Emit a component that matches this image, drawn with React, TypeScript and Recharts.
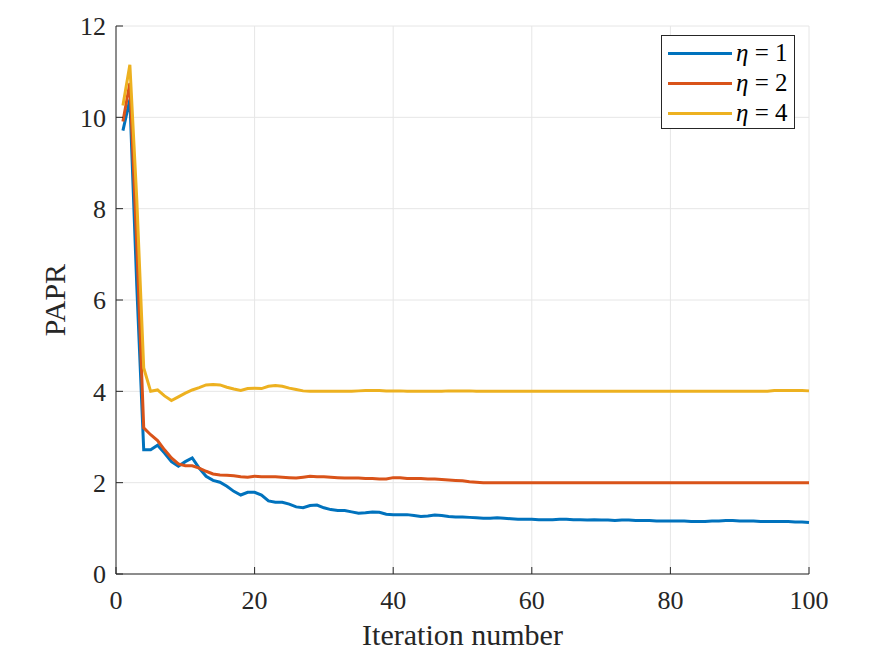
import React from 'react';
import { LineChart, Line, XAxis, YAxis, CartesianGrid } from 'recharts';

// PAPR per iteration (iterations 1..100)
const paprEta1 = [
  9.71, 10.39, 6.3, 2.72, 2.72, 2.82, 2.65, 2.46, 2.36, 2.46,
  2.54, 2.32, 2.14, 2.05, 2.01, 1.92, 1.81, 1.73, 1.79, 1.79,
  1.73, 1.6, 1.57, 1.57, 1.53, 1.47, 1.45, 1.5, 1.51, 1.45,
  1.41, 1.39, 1.39, 1.36, 1.33, 1.34, 1.36, 1.35, 1.31, 1.3,
  1.3, 1.3, 1.28, 1.26, 1.27, 1.29, 1.28, 1.26, 1.25, 1.25,
  1.24, 1.23, 1.22, 1.22, 1.23, 1.22, 1.21, 1.2, 1.2, 1.2,
  1.19, 1.19, 1.19, 1.2, 1.2, 1.19, 1.19, 1.18, 1.19, 1.18,
  1.18, 1.17, 1.18, 1.18, 1.17, 1.17, 1.17, 1.16, 1.16, 1.16,
  1.16, 1.16, 1.15, 1.15, 1.15, 1.16, 1.16, 1.17, 1.17, 1.16,
  1.16, 1.16, 1.15, 1.15, 1.15, 1.15, 1.15, 1.14, 1.14, 1.13,
];

const paprEta2 = [
  9.91, 10.75, 7.2, 3.2, 3.05, 2.92, 2.72, 2.54, 2.41, 2.37,
  2.37, 2.32, 2.25, 2.19, 2.17, 2.16, 2.15, 2.13, 2.12, 2.14,
  2.13, 2.13, 2.13, 2.12, 2.11, 2.1, 2.12, 2.14, 2.13, 2.13,
  2.12, 2.11, 2.1, 2.1, 2.1, 2.09, 2.09, 2.08, 2.08, 2.11,
  2.11, 2.09, 2.09, 2.09, 2.08, 2.08, 2.07, 2.06, 2.05, 2.04,
  2.02, 2.01, 2.0, 2.0, 2.0, 2.0, 2.0, 2.0, 2.0, 2.0,
  2.0, 2.0, 2.0, 2.0, 2.0, 2.0, 2.0, 2.0, 2.0, 2.0,
  2.0, 2.0, 2.0, 2.0, 2.0, 2.0, 2.0, 2.0, 2.0, 2.0,
  2.0, 2.0, 2.0, 2.0, 2.0, 2.0, 2.0, 2.0, 2.0, 2.0,
  2.0, 2.0, 2.0, 2.0, 2.0, 2.0, 2.0, 2.0, 2.0, 2.0,
];

const paprEta4 = [
  10.26, 11.15, 8.2, 4.51, 4.0, 4.03, 3.9, 3.8, 3.88, 3.96,
  4.03, 4.08, 4.14, 4.15, 4.14, 4.09, 4.05, 4.02, 4.06, 4.07,
  4.06, 4.11, 4.13, 4.11, 4.07, 4.04, 4.01, 4.0, 4.0, 4.0,
  4.0, 4.0, 4.0, 4.0, 4.01, 4.02, 4.02, 4.02, 4.01, 4.01,
  4.01, 4.0, 4.0, 4.0, 4.0, 4.0, 4.0, 4.01, 4.01, 4.01,
  4.01, 4.0, 4.0, 4.0, 4.0, 4.0, 4.0, 4.0, 4.0, 4.0,
  4.0, 4.0, 4.0, 4.0, 4.0, 4.0, 4.0, 4.0, 4.0, 4.0,
  4.0, 4.0, 4.0, 4.0, 4.0, 4.0, 4.0, 4.0, 4.0, 4.0,
  4.0, 4.0, 4.0, 4.0, 4.0, 4.0, 4.0, 4.0, 4.0, 4.0,
  4.0, 4.0, 4.0, 4.0, 4.02, 4.02, 4.02, 4.02, 4.02, 4.01,
];

const xTicks = [0, 20, 40, 60, 80, 100];
const yTicks = [0, 2, 4, 6, 8, 10, 12];

const series = [
  { key: 'eta1', label: '1', color: '#0072BD', values: paprEta1 },
  { key: 'eta2', label: '2', color: '#D95319', values: paprEta2 },
  { key: 'eta4', label: '4', color: '#EDB120', values: paprEta4 },
];

const data = paprEta1.map((_, i) => ({
  iter: i + 1,
  eta1: paprEta1[i],
  eta2: paprEta2[i],
  eta4: paprEta4[i],
}));

const FONT = 'Liberation Serif, Times New Roman, serif';
const AXIS = '#262626';

// MATLAB-style legend box, drawn on top of the plot
const LegendBox = () => (
  <div
    style={{
      position: 'absolute',
      left: 661,
      top: 35,
      width: 134,
      height: 94,
      boxSizing: 'border-box',
      border: '1px solid #262626',
      background: '#fff',
      padding: '2px 0 0 6px',
      fontFamily: FONT,
    }}
  >
    {series.map(s => (
      <div key={s.key} style={{ display: 'flex', alignItems: 'center', height: 30 }}>
        <span style={{ display: 'inline-block', width: 64, height: 3, background: s.color, marginRight: 4 }} />
        <span style={{ fontSize: 25, color: '#000', fontFamily: FONT, whiteSpace: 'nowrap' }}>
          <i style={{ fontFamily: FONT }}>η</i> = {s.label}
        </span>
      </div>
    ))}
  </div>
);

const App = () => {
  return (
    <div style={{ position: 'absolute', left: 0, top: 0, width: 894, height: 671, background: '#fff' }}>
      <LineChart width={894} height={671} data={data} margin={{ top: 26, right: 85, left: 56, bottom: 37 }}>
        <CartesianGrid xAxisId="b" yAxisId="l" stroke="#e6e6e6" strokeWidth={1} />
        <XAxis
          xAxisId="b"
          dataKey="iter"
          type="number"
          domain={[0, 100]}
          ticks={xTicks}
          height={60}
          stroke={AXIS}
          tickSize={-7}
          tickMargin={24}
          tick={{ fill: AXIS, fontSize: 26, fontFamily: FONT }}
          label={{ value: 'Iteration number', position: 'insideBottom', offset: -11, fill: AXIS, fontSize: 30, fontFamily: FONT }}
        />
        <XAxis
          xAxisId="t"
          dataKey="iter"
          type="number"
          domain={[0, 100]}
          ticks={xTicks}
          orientation="top"
          height={0}
          stroke={AXIS}
          tickSize={-7}
          tick={false}
        />
        <YAxis
          yAxisId="l"
          type="number"
          domain={[0, 12]}
          ticks={yTicks}
          width={60}
          stroke={AXIS}
          tickSize={-7}
          tickMargin={17}
          tick={{ fill: AXIS, fontSize: 26, fontFamily: FONT }}
          label={{ value: 'PAPR', angle: -90, position: 'insideLeft', offset: -2, fill: AXIS, fontSize: 30, fontFamily: FONT, style: { textAnchor: 'middle' } }}
        />
        <YAxis
          yAxisId="r"
          type="number"
          domain={[0, 12]}
          ticks={yTicks}
          orientation="right"
          width={0}
          stroke={AXIS}
          tickSize={-7}
          tick={false}
        />
        {series.map(s => (
          <Line
            key={s.key}
            xAxisId="b"
            yAxisId="l"
            type="linear"
            dataKey={s.key}
            stroke={s.color}
            strokeWidth={3}
            dot={false}
            isAnimationActive={false}
          />
        ))}
      </LineChart>
      <LegendBox />
    </div>
  );
};

export default App;
